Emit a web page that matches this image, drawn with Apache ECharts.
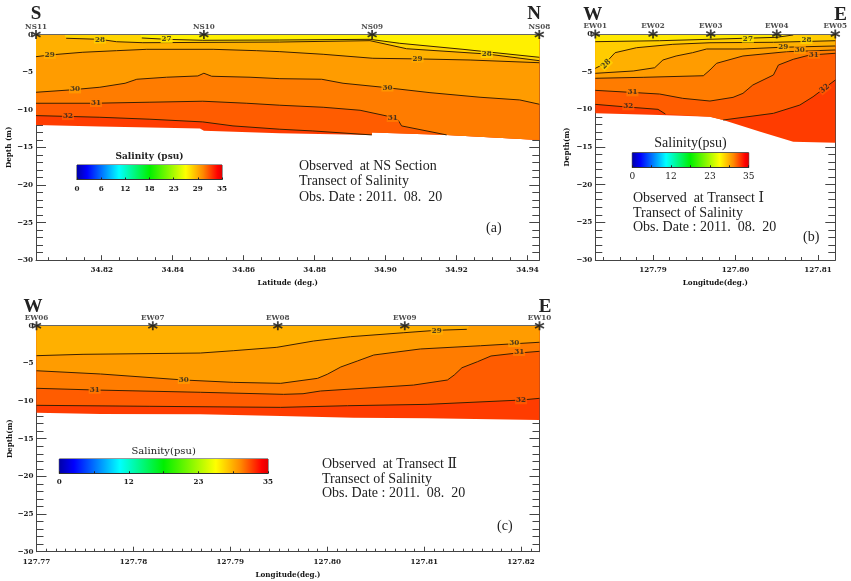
<!DOCTYPE html>
<html>
<head>
<meta charset="utf-8">
<style>
html, body { margin: 0; padding: 0; background: #fff; }
#chart { width: 851px; height: 581px; }
</style>
<script src="https://cdn.jsdelivr.net/npm/echarts@6/dist/echarts.min.js"></script>
</head>
<body>
<div id="chart"></div>
<script>
// panel (a) NS section: [latitude, depth]
var nsStations = ['NS11', 'NS10', 'NS09', 'NS08'];
var nsStationX = [34.8015, 34.8488, 34.8962, 34.9433];
var nsMajor = [34.82, 34.84, 34.86, 34.88, 34.90, 34.92, 34.94];
var nsMinor = [34.805, 34.81, 34.815, 34.825, 34.83, 34.835, 34.845, 34.85, 34.855, 34.865, 34.87, 34.875, 34.885, 34.89, 34.895, 34.905, 34.91, 34.915, 34.925, 34.93, 34.935];
var nsFloor = [[34.8015, -12.02], [34.8195, -12.24], [34.8477, -12.51], [34.8488, -12.78], [34.8702, -13.12], [34.8961, -13.35], [34.8962, -13.04], [34.9172, -13.35], [34.9433, -14.01]];
var ns32 = [[34.8015, -10.78], [34.8195, -11.0], [34.8336, -11.26], [34.8485, -11.62], [34.8570, -12.15], [34.8702, -12.59], [34.8795, -12.82], [34.8961, -13.35]];
var ns31 = [[34.8015, -9.14], [34.8176, -9.14], [34.8336, -9.0], [34.8485, -8.87], [34.8609, -9.14], [34.8702, -9.40], [34.8824, -9.67], [34.8928, -10.07], [34.9012, -10.92], [34.9035, -11.35], [34.9045, -12.15], [34.9172, -13.35]];
var ns30 = [[34.8015, -7.68], [34.8111, -7.37], [34.8195, -7.01], [34.8266, -6.48], [34.8299, -5.95], [34.8383, -5.68], [34.8471, -5.51], [34.8488, -5.15], [34.8510, -5.55], [34.8618, -5.68], [34.8702, -5.87], [34.8820, -5.95], [34.8880, -6.48], [34.8992, -7.01], [34.9125, -7.73], [34.9266, -8.34], [34.9378, -8.70], [34.9433, -9.27]];
var ns29 = [[34.8015, -2.95], [34.8054, -2.72], [34.8147, -2.36], [34.8242, -2.15], [34.8327, -1.97], [34.8514, -1.97], [34.8637, -2.15], [34.8702, -2.28], [34.8824, -2.63], [34.8964, -3.16], [34.9097, -3.25], [34.9238, -3.39], [34.9433, -3.75]];
var ns28 = [[34.8100, -0.5], [34.8195, -0.64], [34.8242, -0.96], [34.8316, -1.09], [34.8702, -1.0], [34.8956, -0.82], [34.9059, -1.89], [34.9285, -2.59], [34.9433, -3.48]];
var ns27 = [[34.8313, -0.46], [34.8383, -0.64], [34.8485, -0.77], [34.8702, -0.73], [34.8956, -0.64], [34.9040, -1.17], [34.9218, -1.97], [34.9433, -3.03]];
var nsTail32 = [[34.8962, -13.04], [34.9172, -13.35], [34.9433, -14.01]];
var nsTail31 = [[34.9433, -14.01]];
var nsLead28 = [[34.8095, 0]];
var nsLead27 = [[34.8308, 0]];
var nsLabels = [[34.8195, -0.66, '28'], [34.8383, -0.6, '27'], [34.8054, -2.72, '29'], [34.8125, -7.3, '30'], [34.8184, -9.1, '31'], [34.8105, -10.85, '32'], [34.9090, -3.2, '29'], [34.9285, -2.6, '28'], [34.9005, -7.05, '30'], [34.9020, -11.1, '31']];

// panel (b) transect I: [longitude, depth]
var ew1Stations = ['EW01', 'EW02', 'EW03', 'EW04', 'EW05'];
var ew1StationX = [127.7830, 127.7900, 127.7970, 127.8050, 127.8121];
var ew1Major = [127.79, 127.80, 127.81];
var ew1Minor = [127.784, 127.786, 127.788, 127.792, 127.794, 127.796, 127.798, 127.802, 127.804, 127.806, 127.808];
var ew1Floor = [[127.7830, -10.53], [127.7908, -10.76], [127.7969, -10.98], [127.7985, -11.42], [127.8030, -12.97], [127.8070, -14.30], [127.8121, -14.44]];
var ew132a = [[127.7830, -9.34], [127.7864, -9.65], [127.7906, -10.0], [127.7915, -10.62]];
var ew132b = [[127.7985, -11.42], [127.8046, -10.53], [127.8078, -9.43], [127.8094, -8.33], [127.8121, -6.11]];
var ew131 = [[127.7830, -7.48], [127.7872, -7.74], [127.7908, -7.97], [127.7936, -8.54], [127.7969, -8.90], [127.7997, -8.41], [127.8009, -7.88], [127.8021, -6.77], [127.8046, -5.44], [127.8052, -4.12], [127.8070, -3.36], [127.8090, -2.79], [127.8121, -2.56]];
var ew130 = [[127.7830, -5.88], [127.7888, -5.75], [127.7961, -5.54], [127.7969, -4.78], [127.7977, -3.89], [127.8009, -2.92], [127.8062, -2.35], [127.8121, -2.12]];
var ew129 = [[127.7830, -5.22], [127.7876, -4.91], [127.7902, -4.48], [127.7912, -3.45], [127.7928, -2.92], [127.7948, -2.48], [127.7965, -1.99], [127.8009, -1.99], [127.8054, -1.77], [127.8121, -1.59]];
var ew128 = [[127.7830, -4.56], [127.7842, -3.89], [127.7854, -2.48], [127.7880, -1.82], [127.7924, -1.37], [127.7969, -1.16], [127.8046, -1.10], [127.8121, -0.89]];
var ew127 = [[127.7830, -1.02], [127.7908, -0.89], [127.7969, -0.70], [127.8050, -0.44], [127.8070, -0.13]];
var ew1Mid32 = [[127.7969, -10.98]];
var ew1Tail27 = [[127.8076, 0]];
var ew1Labels = [[127.7843, -4.0, '28', 45], [127.8015, -0.62, '27'], [127.8086, -0.8, '28'], [127.8058, -1.75, '29'], [127.8078, -2.1, '30'], [127.8095, -2.75, '31'], [127.7875, -7.75, '31'], [127.7870, -9.6, '32'], [127.8108, -7.25, '32', 40]];

// panel (c) transect II: [longitude, depth]
var ew2Stations = ['EW06', 'EW07', 'EW08', 'EW09', 'EW10'];
var ew2StationX = [127.7700, 127.7820, 127.7949, 127.8080, 127.8219];
var ew2Major = [127.77, 127.78, 127.79, 127.80, 127.81, 127.82];
var ew2Minor = [127.771, 127.772, 127.773, 127.774, 127.775, 127.776, 127.777, 127.778, 127.779, 127.781, 127.782, 127.783, 127.784, 127.785, 127.786, 127.787, 127.788, 127.789, 127.791, 127.792, 127.793, 127.794, 127.795, 127.796, 127.797, 127.798, 127.799, 127.801, 127.802, 127.803, 127.804, 127.805, 127.806, 127.807, 127.808, 127.809, 127.811, 127.812, 127.813, 127.814, 127.815, 127.816, 127.817, 127.818, 127.819, 127.821];
var ew2Floor = [[127.7700, -11.55], [127.7766, -11.73], [127.7869, -11.77], [127.7952, -11.99], [127.8027, -12.22], [127.8103, -12.30], [127.8219, -12.52]];
var ew232 = [[127.7700, -10.57], [127.7817, -10.70], [127.7952, -10.84], [127.8021, -10.62], [127.8103, -10.44], [127.8200, -9.87], [127.8219, -9.64]];
var ew231 = [[127.7700, -8.31], [127.7762, -8.54], [127.7869, -8.84], [127.7955, -9.11], [127.7975, -9.03], [127.7993, -8.67], [127.8089, -7.88], [127.8124, -7.21], [127.8131, -6.55], [127.8139, -5.58], [127.8155, -4.78], [127.8169, -4.02], [127.8193, -3.67], [127.8219, -3.40]];
var ew230 = [[127.7700, -5.98], [127.7766, -6.41], [127.7852, -7.21], [127.7903, -7.52], [127.7952, -7.65], [127.7990, -6.99], [127.8000, -6.45], [127.8014, -5.48], [127.8031, -4.69], [127.8048, -3.89], [127.8096, -3.09], [127.8158, -2.66], [127.8219, -2.20]];
var ew229 = [[127.7700, -3.98], [127.7748, -3.80], [127.7869, -3.63], [127.7903, -3.32], [127.7948, -2.87], [127.7986, -2.03], [127.8024, -1.46], [127.8079, -0.93], [127.8113, -0.61], [127.8144, -0.48]];
var ew2Tail29 = [[127.8147, 0]];
var ew2Labels = [[127.7852, -7.2, '30'], [127.7760, -8.5, '31'], [127.8113, -0.66, '29'], [127.8193, -2.32, '30'], [127.8198, -3.5, '31'], [127.8200, -9.9, '32']];

// colour bars
var barTicks = [0, 35 / 6, 35 / 3, 17.5, 70 / 3, 175 / 6, 35];
var barLabelsFull = [0, 35 / 6, 35 / 3, 17.5, 70 / 3, 175 / 6, 35];
var barLabelsShort = [0, 35 / 3, 70 / 3, 35];
var barRange = [[0, 1], [35, 1]];

// colour of the water above each contour; first entry is below the last contour
var bandColors = {deep: '#FF3C00', c32: '#FF5C00', c31: '#FF7C00', c30: '#FF9C00', c29: '#FFB000', c28: '#FFD400', c27: '#FFF000'};
var labelColors = {'32': '#FF5C00', '31': '#FF7C00', '30': '#FF9C00', '29': '#FFB000', '28': '#FFD400', '27': '#FFE400'};

var TICK_FONT = '"DejaVu Serif Condensed", "DejaVu Serif", serif';
var TEXT_FONT = '"Liberation Serif", "DejaVu Serif", serif';
var AXIS_COLOR = '#444';
var STAR = 'path://M0,-5L0,5M-4.4,-2.5L4.4,2.5M-4.4,2.5L4.4,-2.5';

var grids = [], xAxes = [], yAxes = [], series = [], texts = [];

function addText(x, y, str, size, opts) {
    opts = opts || {};
    texts.push({
        type: 'text', x: x, y: y, silent: true,
        style: {
            text: str, fill: opts.color || '#222', fontSize: size,
            fontFamily: opts.family || TEXT_FONT, fontWeight: opts.weight || 'normal',
            align: opts.align || 'left', verticalAlign: 'middle'
        }
    });
}

function addPanel(p) {
    var idx = grids.length;
    var xIdx = xAxes.length;
    var yIdx = yAxes.length;
    grids.push({left: p.left, top: p.top, width: p.width, height: p.height, containLabel: false, outerBoundsMode: 'none'});
    xAxes.push({
        type: 'value', gridIndex: idx, min: p.xMin, max: p.xMax, position: 'bottom',
        name: p.xName, nameLocation: 'middle', nameGap: 19,
        nameTextStyle: {fontFamily: TICK_FONT, fontSize: 8, fontWeight: 'bold', color: '#111'},
        splitLine: {show: false},
        axisLine: {onZero: false, lineStyle: {color: AXIS_COLOR}},
        axisTick: {inside: true, length: 5, customValues: p.major, lineStyle: {color: AXIS_COLOR}},
        axisLabel: {customValues: p.major, margin: 6, fontFamily: TICK_FONT, fontSize: 8, fontWeight: 'bold', color: '#222',
            formatter: function (v) { return v.toFixed(2); }}
    });
    xAxes.push({
        type: 'value', gridIndex: idx, min: p.xMin, max: p.xMax, position: 'bottom',
        splitLine: {show: false}, axisLabel: {show: false},
        axisLine: {show: false, onZero: false},
        axisTick: {inside: true, length: 3, customValues: p.minor, lineStyle: {color: AXIS_COLOR}}
    });
    xAxes.push({
        type: 'value', gridIndex: idx, min: p.xMin, max: p.xMax, position: 'top', z: 5,
        splitLine: {show: false}, axisLabel: {show: false}, axisTick: {show: false},
        axisLine: {onZero: false, lineStyle: {color: '#666'}}
    });
    yAxes.push({
        type: 'value', gridIndex: idx, min: -30, max: 0, interval: 5, position: 'left',
        name: p.yName, nameLocation: 'middle', nameGap: p.yGap, nameMoveOverlap: false,
        nameTextStyle: {fontFamily: TICK_FONT, fontSize: 8, fontWeight: 'bold', color: '#111'},
        splitLine: {show: false},
        axisLine: {onZero: false, lineStyle: {color: AXIS_COLOR}},
        axisTick: {inside: true, length: 10, lineStyle: {color: AXIS_COLOR}},
        minorTick: {show: true, splitNumber: 5, length: 7, lineStyle: {color: AXIS_COLOR}},
        minorSplitLine: {show: false},
        axisLabel: {margin: 3, fontFamily: TICK_FONT, fontSize: 8, fontWeight: 'bold', color: '#222',
            formatter: function (v) { return String(v).replace('-', '\u2212'); }}
    });
    yAxes.push({
        type: 'value', gridIndex: idx, min: -30, max: 0, interval: 5, position: 'right',
        splitLine: {show: false}, axisLabel: {show: false},
        axisLine: {onZero: false, lineStyle: {color: AXIS_COLOR}},
        axisTick: {inside: true, length: 10, lineStyle: {color: AXIS_COLOR}},
        minorTick: {show: true, splitNumber: 5, length: 7, lineStyle: {color: AXIS_COLOR}},
        minorSplitLine: {show: false}
    });
    p.fills.forEach(function (f) {
        series.push({
            type: 'line', xAxisIndex: xIdx, yAxisIndex: yIdx, data: f[0], z: 2,
            showSymbol: false, symbol: 'none', silent: true, animation: false,
            lineStyle: {width: 0},
            areaStyle: {origin: 'end', color: f[1], opacity: 1}
        });
    });
    p.lines.forEach(function (l) {
        series.push({
            type: 'line', xAxisIndex: xIdx, yAxisIndex: yIdx, data: l, z: 3,
            showSymbol: false, symbol: 'none', silent: true, animation: false,
            lineStyle: {width: 1, color: '#3a2000'}
        });
    });
    series.push({
        type: 'scatter', xAxisIndex: xIdx, yAxisIndex: yIdx, z: 4, silent: true, animation: false,
        clip: false, symbol: 'circle', symbolSize: 1, itemStyle: {color: 'rgba(0,0,0,0)'},
        data: p.labels.map(function (d) {
            return {
                value: [d[0], d[1]],
                label: {
                    show: true, position: 'inside', formatter: d[2], rotate: d[3] || 0,
                    fontFamily: TICK_FONT, fontSize: 8, fontWeight: 'bold', color: '#222',
                    backgroundColor: labelColors[d[2]], padding: [0, 1]
                }
            };
        })
    });
    series.push({
        type: 'scatter', xAxisIndex: xIdx, yAxisIndex: yIdx, z: 6, silent: true, animation: false,
        clip: false, symbol: STAR, symbolSize: 9,
        itemStyle: {color: 'none', borderColor: '#111', borderWidth: 1.8},
        label: {show: true, position: 'top', distance: 3, offset: [0, 6], fontFamily: TICK_FONT, fontSize: 8, fontWeight: 'bold', color: '#222',
            formatter: function (q) { return p.stations[q.dataIndex]; }},
        data: p.stationX.map(function (x) { return [x, 0]; })
    });
}

function addColorBar(b) {
    var idx = grids.length;
    var xIdx = xAxes.length;
    var yIdx = yAxes.length;
    grids.push({left: b.left, top: b.top, width: b.width, height: b.height, show: true, borderColor: '#333', borderWidth: 1, outerBoundsMode: 'none'});
    xAxes.push({
        type: 'value', gridIndex: idx, min: 0, max: 35, position: 'bottom', z: 5,
        splitLine: {show: false},
        axisLine: {onZero: false, lineStyle: {color: '#333'}},
        axisTick: {inside: true, length: 2, customValues: barTicks, lineStyle: {color: '#222'}},
        axisLabel: {customValues: b.labels, margin: 5, fontFamily: b.font, fontSize: b.fontSize, fontWeight: b.fontWeight, color: '#222',
            showMinLabel: true, showMaxLabel: true,
            formatter: function (v) { return String(Math.round(v)); }}
    });
    yAxes.push({type: 'value', gridIndex: idx, min: 0, max: 1, show: false});
    series.push({
        type: 'line', xAxisIndex: xIdx, yAxisIndex: yIdx, data: barRange, z: 2,
        showSymbol: false, symbol: 'none', silent: true, animation: false,
        lineStyle: {width: 0},
        areaStyle: {
            origin: 'start', opacity: 1,
            color: new echarts.graphic.LinearGradient(0, 0, 1, 0, [
                {offset: 0, color: '#0000A8'},
                {offset: 0.07, color: '#0000FF'},
                {offset: 0.29, color: '#00FFFF'},
                {offset: 0.5, color: '#00F000'},
                {offset: 0.75, color: '#FFFF00'},
                {offset: 0.87, color: '#FF8800'},
                {offset: 0.97, color: '#FF0000'},
                {offset: 1, color: '#E00000'}
            ])
        }
    });
    addText(b.left + b.width / 2, b.titleY, b.title, b.titleSize, {align: 'center', family: b.titleFont, weight: b.titleWeight});
}

addPanel({
    left: 36, top: 34.5, width: 503.3, height: 225.7,
    xMin: 34.8015, xMax: 34.9433, xName: 'Latitude (deg.)', yName: 'Depth (m)', yGap: 23,
    major: nsMajor, minor: nsMinor, stations: nsStations, stationX: nsStationX,
    fills: [
        [nsFloor, bandColors.deep],
        [ns32.concat(nsTail32), bandColors.c32],
        [ns31.concat(nsTail31), bandColors.c31],
        [ns30, bandColors.c30],
        [ns29, bandColors.c29],
        [nsLead28.concat(ns28), bandColors.c28],
        [nsLead27.concat(ns27), bandColors.c27]
    ],
    lines: [ns32, ns31, ns30, ns29, ns28, ns27],
    labels: nsLabels
});

addPanel({
    left: 595.3, top: 34, width: 240, height: 226,
    xMin: 127.7830, xMax: 127.8121, xName: 'Longitude(deg.)', yName: 'Depth(m)', yGap: 24,
    major: ew1Major, minor: ew1Minor, stations: ew1Stations, stationX: ew1StationX,
    fills: [
        [ew1Floor, bandColors.deep],
        [ew132a.concat(ew1Mid32, ew132b), bandColors.c32],
        [ew131, bandColors.c31],
        [ew130, bandColors.c30],
        [ew129, bandColors.c29],
        [ew128, '#FFCC00'],
        [ew127.concat(ew1Tail27), '#FFE800']
    ],
    lines: [ew132a, ew132b, ew131, ew130, ew129, ew128, ew127],
    labels: ew1Labels
});

addPanel({
    left: 36.5, top: 325.7, width: 503, height: 226,
    xMin: 127.77, xMax: 127.8219, xName: 'Longitude(deg.)', yName: 'Depth(m)', yGap: 23,
    major: ew2Major, minor: ew2Minor, stations: ew2Stations, stationX: ew2StationX,
    fills: [
        [ew2Floor, bandColors.deep],
        [ew232, bandColors.c32],
        [ew231, bandColors.c31],
        [ew230, bandColors.c30],
        [ew229.concat(ew2Tail29), bandColors.c29]
    ],
    lines: [ew232, ew231, ew230, ew229],
    labels: ew2Labels
});

addColorBar({left: 77, top: 165, width: 145, height: 14.5, labels: barLabelsFull, font: TICK_FONT, fontSize: 8, fontWeight: 'bold',
    title: 'Salinity (psu)', titleY: 157, titleSize: 9, titleFont: '"DejaVu Serif", serif', titleWeight: 'bold'});
addColorBar({left: 632.3, top: 152.7, width: 116.4, height: 14.6, labels: barLabelsShort, font: '"DejaVu Serif", serif', fontSize: 9, fontWeight: 'normal',
    title: 'Salinity(psu)', titleY: 143, titleSize: 14, titleFont: TEXT_FONT, titleWeight: 'normal'});
addColorBar({left: 59.3, top: 459, width: 208.7, height: 14.3, labels: barLabelsShort, font: TICK_FONT, fontSize: 8, fontWeight: 'bold',
    title: 'Salinity(psu)', titleY: 451, titleSize: 10, titleFont: '"DejaVu Serif", serif', titleWeight: 'normal'});

// section end letters
addText(36, 14, 'S', 19, {align: 'center', weight: 'bold'});
addText(534, 14, 'N', 19, {align: 'center', weight: 'bold'});
addText(592.7, 15, 'W', 19, {align: 'center', weight: 'bold'});
addText(840.5, 15, 'E', 19, {align: 'center', weight: 'bold'});
addText(33, 307, 'W', 19, {align: 'center', weight: 'bold'});
addText(545, 307, 'E', 19, {align: 'center', weight: 'bold'});

// panel notes
addText(299, 166, 'Observed  at NS Section', 14);
addText(299, 181, 'Transect of Salinity', 14);
addText(299, 197, 'Obs. Date : 2011.  08.  20', 14);
addText(486, 228, '(a)', 14);
addText(633, 198, 'Observed  at Transect \u2160', 14);
addText(633, 213, 'Transect of Salinity', 14);
addText(633, 227, 'Obs. Date : 2011.  08.  20', 14);
addText(803, 237, '(b)', 14);
addText(322, 464, 'Observed  at Transect \u2161', 14);
addText(322, 479, 'Transect of Salinity', 14);
addText(322, 493, 'Obs. Date : 2011.  08.  20', 14);
addText(497, 526, '(c)', 14);

var chart = echarts.init(document.getElementById('chart'), null, {renderer: 'canvas'});
chart.setOption({
    animation: false,
    backgroundColor: '#fff',
    grid: grids,
    xAxis: xAxes,
    yAxis: yAxes,
    series: series,
    graphic: {elements: texts}
});
</script>
</body>
</html>
